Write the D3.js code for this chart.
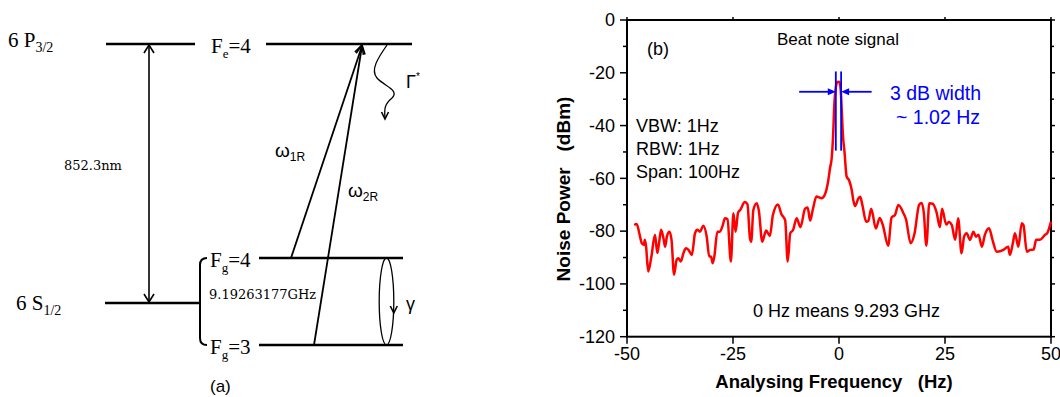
<!DOCTYPE html>
<html>
<head>
<meta charset="utf-8">
<script src="https://cdn.jsdelivr.net/npm/d3@7"></script>
<style>
html,body{margin:0;padding:0;background:#fff;}
svg{display:block;font-family:"Liberation Sans",Arial,sans-serif;}
</style>
</head>
<body>
<svg id="chart" width="1060" height="397"></svg>
<script>
// ---------------- data (panel b) ----------------
const freqHz = [-48.3,-47.7,-47.1,-46.5,-46.0,-45.8,-45.5,-45.0,-44.3,-43.4,-42.85,-42.45,-41.96,-41.4,-41.0,-40.6,-40.0,-39.5,-38.9,-38.3,-37.9,-37.3,-36.7,-36.1,-35.5,-34.7,-33.96,-33.4,-32.8,-32.0,-31.2,-30.6,-30.2,-29.8,-29.4,-28.7,-28.1,-27.4,-26.9,-26.3,-25.5,-24.9,-24.4,-23.8,-23.3,-22.2,-21.6,-21.0,-20.7,-20.2,-19.4,-18.9,-18.1,-17.2,-16.3,-15.6,-14.4,-13.6,-12.7,-12.1,-11.5,-10.8,-10.0,-9.1,-8.0,-7.4,-6.8,-6.2,-5.3,-4.1,-3.3,-2.6,-2.1,-1.7,-1.4,-1.1,-0.7,-0.4,0.05,0.4,0.7,0.9,1.3,1.8,2.4,3.0,3.4,3.8,4.6,5.0,5.5,6.4,6.9,7.6,8.7,9.6,10.3,11.6,12.4,13.2,14.0,15.2,15.8,16.9,17.8,18.9,19.5,20.0,20.6,21.3,22.1,23.0,23.8,24.3,25.3,25.9,26.6,27.4,28.1,28.9,29.5,30.1,30.9,31.7,32.3,32.9,33.7,34.4,35.4,36.2,37.2,38.8,39.9,40.3,41.0,41.5,42.3,43.1,43.5,44.3,45.1,45.9,46.5,47.4,48.6,49.1,50.0];
const powerDBm = [-77.7,-77.3,-80.8,-84.6,-85.2,-83.3,-85.9,-95.3,-90.2,-81.4,-88.3,-84.6,-79.5,-82.7,-85.9,-82.1,-80.2,-83.3,-96.5,-90.9,-90.3,-91.5,-88.4,-86.5,-87.1,-89,-80.8,-79.5,-80.2,-78,-82.1,-89.6,-89.6,-92.2,-89.6,-80.2,-80.2,-77.7,-75.1,-75.5,-91.5,-73.2,-80.2,-73,-72,-69,-69.8,-82.7,-84,-72,-69.4,-72.3,-84,-79.8,-81.8,-74,-69.9,-73.5,-75.8,-91.5,-80.8,-79.5,-75.1,-78.5,-71.5,-71,-76,-72,-66.9,-67.5,-66,-61.5,-56,-52,-44,-32,-25,-23.5,-23.4,-26.5,-36,-43,-50,-59.3,-60.8,-64.4,-68.5,-70.5,-67.5,-67,-70,-76.4,-76.2,-71.5,-79,-75,-77.5,-85.5,-74.8,-73.9,-70.1,-73.2,-75.5,-84.6,-81,-70,-69.3,-73,-85.5,-69.4,-69.6,-72.8,-78.5,-71.5,-77.5,-76.5,-77.7,-83.3,-75.1,-88.4,-82.1,-80.8,-83.3,-80.2,-82.1,-81.4,-85.9,-81.4,-78.9,-83.3,-87.8,-87.1,-85.9,-89,-84.6,-80.8,-85.9,-77,-77.7,-87.8,-87.1,-87,-83.3,-83.3,-81.4,-80.8,-76.4];
const xTicks = [-50,-25,0,25,50];
const xTickLabels = ["-50","-25","0","25","50"];
const yTicks = [0,-20,-40,-60,-80,-100,-120];
const yTickLabels = ["0","-20","-40","-60","-80","-100","-120"];
const widthMarkersHz = [-0.75, 0.5];      // 3 dB width markers
const widthMarkerSpanDBm = [-19.5, -49.5];
const widthArrowDBm = -27.2;
const widthArrowOuterHz = [-9.4, 7.7];
const infoLines = ["VBW: 1Hz","RBW: 1Hz","Span: 100Hz"];

const svg = d3.select("#chart");
svg.append("rect").attr("width",1060).attr("height",397).attr("fill","#fff");

// ---------------- panel b ----------------
const x = d3.scaleLinear().domain([-50,50]).range([627,1051]);
const y = d3.scaleLinear().domain([-120,0]).range([336.7,20]);
const gb = svg.append("g");

const minorY = d3.range(-120,1,10);
gb.selectAll(".ytl").data(minorY).join("line")
  .attr("x1",d=>x(-50)-(d%20===0?7:4)).attr("x2",x(-50))
  .attr("y1",d=>y(d)).attr("y2",d=>y(d)).attr("stroke","#000").attr("stroke-width",1.5);
gb.selectAll(".ytr").data(minorY).join("line")
  .attr("x1",x(50)).attr("x2",d=>x(50)+(d%20===0?4:3))
  .attr("y1",d=>y(d)).attr("y2",d=>y(d)).attr("stroke","#000").attr("stroke-width",1.5);
gb.selectAll(".xtb").data(xTicks).join("line")
  .attr("x1",d=>x(d)).attr("x2",d=>x(d)).attr("y1",y(-120)).attr("y2",y(-120)+7)
  .attr("stroke","#000").attr("stroke-width",1.5);
gb.selectAll(".xtt").data(xTicks).join("line")
  .attr("x1",d=>x(d)).attr("x2",d=>x(d)).attr("y1",y(0)).attr("y2",y(0)-3)
  .attr("stroke","#000").attr("stroke-width",1.5);

gb.selectAll(".yl").data(yTicks).join("text")
  .attr("x",615).attr("y",d=>y(d)).attr("dy","0.35em").attr("text-anchor","end")
  .attr("font-size",18).text((d,i)=>yTickLabels[i]);
gb.selectAll(".xl").data(xTicks).join("text")
  .attr("x",d=>x(d)).attr("y",360).attr("text-anchor","middle")
  .attr("font-size",18).text((d,i)=>xTickLabels[i]);

gb.append("rect").attr("x",x(-50)).attr("y",y(0)).attr("width",x(50)-x(-50)).attr("height",y(-120)-y(0))
  .attr("fill","none").attr("stroke","#000").attr("stroke-width",2);

gb.append("text").attr("x",834).attr("y",388).attr("text-anchor","middle")
  .attr("font-size",18.5).attr("font-weight","bold").style("white-space","pre")
  .text("Analysing Frequency   (Hz)");
gb.append("text").attr("transform","translate(570,189) rotate(-90)").attr("text-anchor","middle")
  .attr("font-size",19).attr("font-weight","bold").style("white-space","pre")
  .text("Noise Power   (dBm)");

const line = d3.line().x(d=>x(d[0])).y(d=>y(d[1])).curve(d3.curveMonotoneX);
gb.append("path").datum(freqHz.map((f,i)=>[f,powerDBm[i]]))
  .attr("d",line).attr("fill","none").attr("stroke","#ff0000").attr("stroke-width",2.5)
  .attr("stroke-linejoin","round");

const blue = "#0000ff";
gb.selectAll(".wm").data(widthMarkersHz).join("line")
  .attr("x1",d=>x(d)).attr("x2",d=>x(d))
  .attr("y1",y(widthMarkerSpanDBm[0])).attr("y2",y(widthMarkerSpanDBm[1]))
  .attr("stroke",blue).attr("stroke-width",1.8);
const ay = y(widthArrowDBm);
widthArrowOuterHz.forEach((f,i)=>{
  const tip = x(widthMarkersHz[i]);
  const start = x(f);
  const dir = Math.sign(tip-start);
  gb.append("line").attr("x1",start).attr("x2",tip-dir*6).attr("y1",ay).attr("y2",ay)
    .attr("stroke",blue).attr("stroke-width",1.8);
  gb.append("path").attr("d",`M${tip},${ay}L${tip-dir*8},${ay-3.5}L${tip-dir*8},${ay+3.5}Z`).attr("fill",blue);
});
gb.append("text").attr("x",890).attr("y",100).attr("font-size",19.5).attr("fill",blue).text("3 dB width");
gb.append("text").attr("x",896).attr("y",124).attr("font-size",19.5).attr("fill",blue).style("white-space","pre").text("~ 1.02 Hz");

gb.append("text").attr("x",647).attr("y",55).attr("font-size",18).text("(b)");
gb.append("text").attr("x",777).attr("y",45).attr("font-size",17).text("Beat note signal");
gb.selectAll(".info").data(infoLines).join("text")
  .attr("x",636).attr("y",(d,i)=>132+i*23).attr("font-size",18).text(d=>d);
gb.append("text").attr("x",753).attr("y",317).attr("font-size",18).text("0 Hz means 9.293 GHz");

// ---------------- panel a (level scheme) ----------------
const ga = svg.append("g");
const serif = "'Liberation Serif','Times New Roman',serif";
const smallSerif = "'DejaVu Serif',serif";
const K = "#000";
function seg(x1,y1,x2,y2,w){ga.append("line").attr("x1",x1).attr("y1",y1).attr("x2",x2).attr("y2",y2).attr("stroke",K).attr("stroke-width",w||2.5);}
function openHead(tx,ty,fx,fy,len,half){
  const a=Math.atan2(ty-fy,tx-fx);
  const p1=[tx-len*Math.cos(a)+half*Math.sin(a), ty-len*Math.sin(a)-half*Math.cos(a)];
  const p2=[tx-len*Math.cos(a)-half*Math.sin(a), ty-len*Math.sin(a)+half*Math.cos(a)];
  ga.append("path").attr("d",`M${p1}L${tx},${ty}L${p2}`).attr("fill","none").attr("stroke",K).attr("stroke-width",1.6);
}
seg(106,44,195,44); seg(266,44,412,44);
seg(105,303,200,303);
seg(259,258,403,258); seg(259,345,403,345);
ga.append("path").attr("d","M207,258 Q200,258 200,265 L200,338 Q200,345 207,345").attr("fill","none").attr("stroke",K).attr("stroke-width",2);
seg(149,45,149,302,1.6); openHead(149,45,149,100,8,5); openHead(149,302,149,250,8,5);
seg(291,258,362,46,1.8); seg(314,345,362,46,1.8);
openHead(362,45,291,258,9,4.5); openHead(362,45,314,345,9,4.5);
ga.append("path").attr("d","M387,45 C378,58 370,70 377,78 C384,86 400,90 392,98 C385,104 384,108 385,118")
  .attr("fill","none").attr("stroke",K).attr("stroke-width",1.3);
openHead(385,119,385,100,7,3.5);
ga.append("ellipse").attr("cx",386.5).attr("cy",301.5).attr("rx",7.3).attr("ry",43.5).attr("fill","none").attr("stroke",K).attr("stroke-width",1.3);
openHead(393.8,313,393.8,295,7,3.5);

function lvl(xp,yp,main,sub,tail,size,subSize){
  const t=ga.append("text").attr("x",xp).attr("y",yp).style("font-family",serif).attr("font-size",size);
  t.append("tspan").style("white-space","pre").text(main);
  t.append("tspan").attr("font-size",subSize).attr("dy",5).text(sub);
  if(tail) t.append("tspan").attr("dy",-5).text(tail);
}
lvl(8,46.5,"6 P","3/2","",21,14);
lvl(16,310,"6 S","1/2","",21,14);
lvl(211,53,"F","e","=4",21,13);
lvl(210,267,"F","g","=4",21,13);
lvl(210,354,"F","g","=3",21,13);
ga.append("text").attr("x",64).attr("y",170).style("font-family",smallSerif).attr("font-size",13).text("852.3nm");
ga.append("text").attr("x",209).attr("y",299).style("font-family",smallSerif).attr("font-size",13).text("9.19263177GHz");
function omega(xp,yp,sub){
  const t=ga.append("text").attr("x",xp).attr("y",yp).attr("font-size",19);
  t.append("tspan").text("ω");
  t.append("tspan").attr("font-size",12).attr("dy",4).text(sub);
}
omega(275,157,"1R");
omega(348,197,"2R");
const g1=ga.append("text").attr("x",406).attr("y",88).attr("font-size",18);
g1.append("tspan").text("Γ");
g1.append("tspan").attr("font-size",10).attr("dy",-8).text("*");
ga.append("text").attr("x",406).attr("y",310).attr("font-size",18).text("γ");
ga.append("text").attr("x",210).attr("y",392).attr("font-size",17).text("(a)");
</script>
</body>
</html>
